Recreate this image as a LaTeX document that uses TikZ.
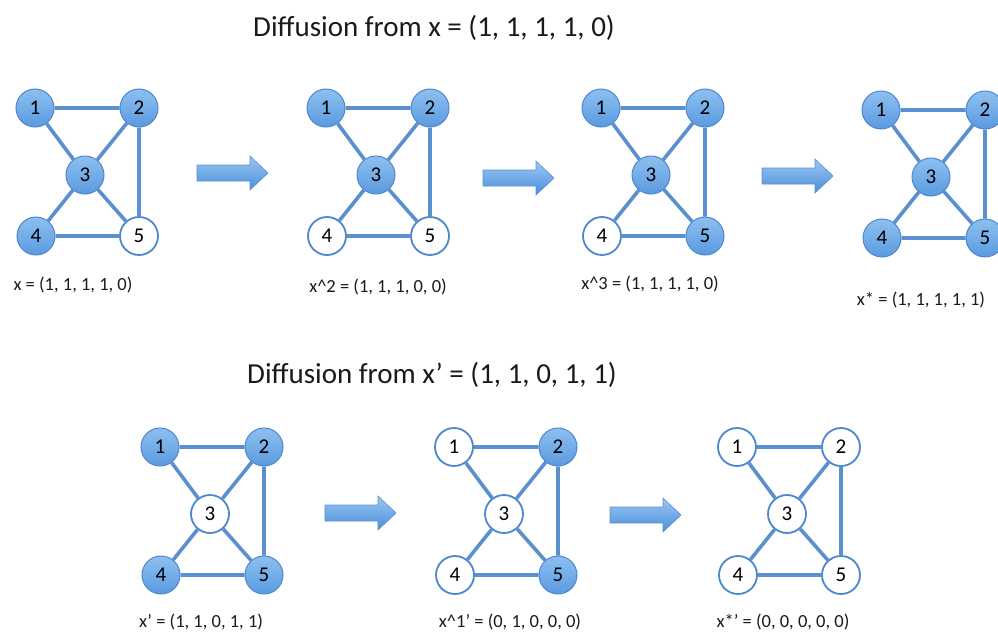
\documentclass[tikz,border=0pt]{standalone}
\usepackage{fontspec}
\setmainfont{Carlito}
\usepackage{xcolor}
\definecolor{nodetop}{HTML}{8EC0F0}
\definecolor{nodebot}{HTML}{5A9AE0}
\definecolor{nodeedge}{HTML}{4D88CC}
\definecolor{linkblue}{HTML}{5A90CE}
\definecolor{arrowtop}{HTML}{9CC8F2}
\definecolor{arrowbot}{HTML}{4A8EDA}
\definecolor{arrowedge}{HTML}{5B90D0}
\definecolor{inkgray}{HTML}{1A1A1A}

\tikzset{
  vtx/.style={circle, minimum size=38pt, inner sep=0pt, text=black,
    font=\fontsize{21}{21}\selectfont},
  on/.style={vtx, top color=nodetop, bottom color=nodebot, draw=nodeedge, line width=1pt},
  off/.style={vtx, fill=white, draw=nodeedge, line width=1.8pt},
  link/.style={draw=linkblue, line width=3.6pt},
  statelbl/.style={text=inkgray, font=\fontsize{18.5}{19}\selectfont},
  headline/.style={text=inkgray, font=\fontsize{29}{31}\selectfont}
}

% one graph: name, x, y of node 1, then the style of nodes 1..5
\newcommand{\netgraph}[8]{%
  \node[#4] (#1n1) at (#2,#3) {1};
  \node[#5] (#1n2) at (#2+104,#3) {2};
  \node[#6] (#1n3) at (#2+50,#3+67) {3};
  \node[#7] (#1n4) at (#2+1,#3+128) {4};
  \node[#8] (#1n5) at (#2+104,#3+128) {5};
  \path[link] (#1n1) -- (#1n2)
              (#1n1) -- (#1n3)
              (#1n2) -- (#1n3)
              (#1n2) -- (#1n5)
              (#1n3) -- (#1n4)
              (#1n3) -- (#1n5)
              (#1n4) -- (#1n5);
}

% block arrow: left x, middle y
\newcommand{\flowarrow}[2]{%
  \shade[top color=arrowtop, bottom color=arrowbot, draw=arrowedge, line width=0.6pt]
    (#1,#2-8) -- ++(53,0) -- ++(0,-9) -- ++(18,17) -- ++(-18,17)
    -- ++(0,-9) -- ++(-53,0) -- cycle;
}

\begin{document}
\begin{tikzpicture}[x=1pt, y=-1pt]
  \useasboundingbox (0,0) rectangle (998,632);

  % first run
  \node[headline] (title1) at (434,28) {Diffusion from x = (1, 1, 1, 1, 0)};

  \netgraph{a}{35}{108}{on}{on}{on}{on}{off}
  \netgraph{b}{326}{108}{on}{on}{on}{off}{off}
  \netgraph{c}{601}{108}{on}{on}{on}{off}{on}
  \netgraph{d}{881}{110}{on}{on}{on}{on}{on}

  \node[statelbl] (xa) at (73,285) {x = (1, 1, 1, 1, 0)};
  \node[statelbl] (xb) at (378,287) {x\^{}2 = (1, 1, 1, 0, 0)};
  \node[statelbl] (xc) at (650,284) {x\^{}3 = (1, 1, 1, 1, 0)};
  \node[statelbl] (xd) at (921,300) {x* = (1, 1, 1, 1, 1)};

  \flowarrow{197}{173}
  \flowarrow{483}{178}
  \flowarrow{762}{176}

  % second run
  \node[headline] (title2) at (432,375) {Diffusion from x’ = (1, 1, 0, 1, 1)};

  \netgraph{e}{160}{447}{on}{on}{off}{on}{on}
  \netgraph{f}{454}{447}{off}{on}{off}{off}{on}
  \netgraph{g}{737}{447}{off}{off}{off}{off}{off}

  \node[statelbl] (xe) at (201,622) {x’ = (1, 1, 0, 1, 1)};
  \node[statelbl] (xf) at (510,622) {x\^{}1’ = (0, 1, 0, 0, 0)};
  \node[statelbl] (xg) at (783,622) {x*’ = (0, 0, 0, 0, 0)};

  \flowarrow{325}{513}
  \flowarrow{610}{515}
\end{tikzpicture}
\end{document}
